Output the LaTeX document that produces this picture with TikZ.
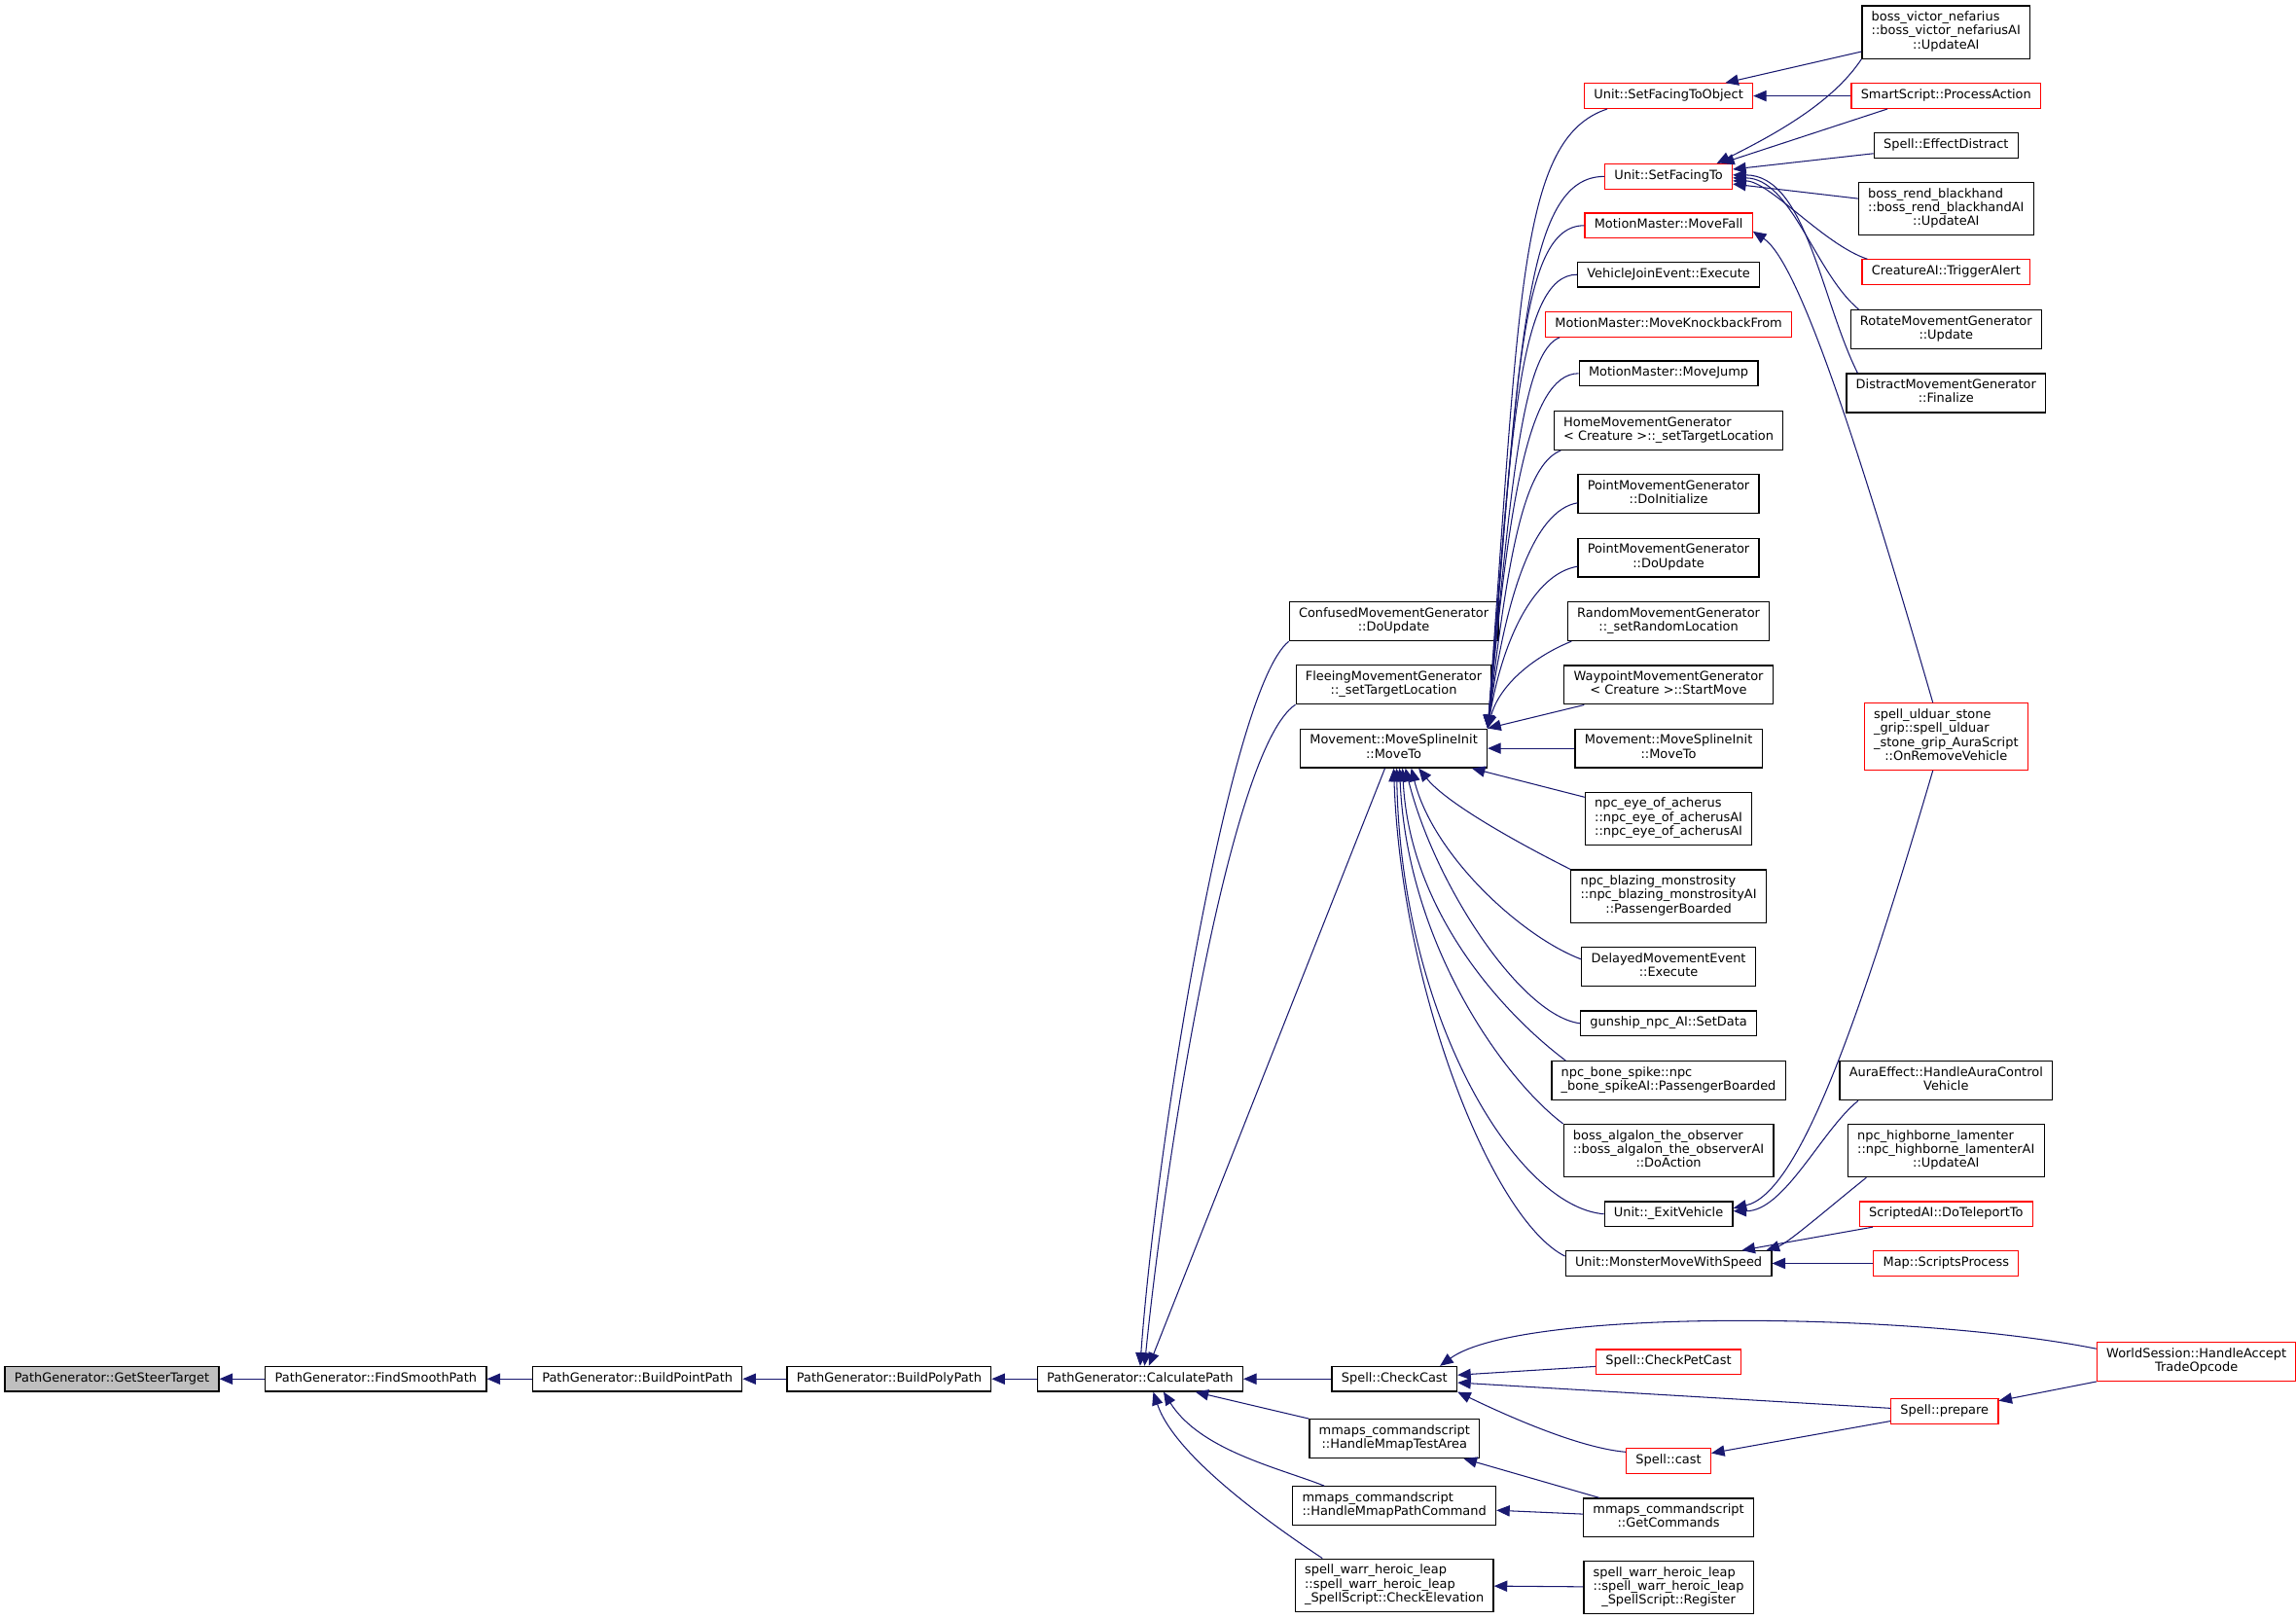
\documentclass[tikz,border=0pt]{standalone}
\usepackage{fontspec}
\newfontfamily\dgfont{DejaVu Sans}
\usepackage{tikz}
\usetikzlibrary{arrows.meta, calc}
\definecolor{edgeblue}{HTML}{191970}
\newcommand{\dgsize}{\dgfont\fontsize{8.6}{9.5}\selectfont}
\newcommand{\dglines}[1]{\begin{tabular}{@{}l@{}}#1\end{tabular}}
\newcommand{\dglast}[1]{\multicolumn{1}{@{}c@{}}{#1}}

\begin{document}
\begin{tikzpicture}[x=1pt, y=-1pt,
	fn/.style={draw=black, fill=white, line width=0.8pt, inner xsep=6.5pt, inner ysep=3.75pt, font=\dgsize, execute at begin node=\strut},
	redfn/.style={fn, draw=red},
	curfn/.style={fn, fill=gray!50},
	edge/.style={{Triangle[length=9pt,width=7.5pt]}-, draw=edgeblue, line width=0.7pt}]

	\useasboundingbox (0,0) rectangle (1568,1106);

	\node[curfn] (GST) at (76.4,941.6) {PathGenerator::GetSteerTarget};
	\node[fn] (FSP) at (256.7,941.6) {PathGenerator::FindSmoothPath};
	\node[fn] (BPtP) at (435.3,941.6) {PathGenerator::BuildPointPath};
	\node[fn] (BPyP) at (607.2,941.6) {PathGenerator::BuildPolyPath};
	\node[fn] (CP) at (778.6,941.6) {PathGenerator::CalculatePath};

	\node[fn] (CMG) at (951.8,424.4) {\dglines{ConfusedMovementGenerator\\\dglast{::DoUpdate}}};
	\node[fn] (FMG) at (951.8,467.5) {\dglines{FleeingMovementGenerator\\\dglast{::\_setTargetLocation}}};
	\node[fn] (MSIl) at (951.8,511) {\dglines{Movement::MoveSplineInit\\\dglast{::MoveTo}}};
	\node[fn] (CC) at (952.3,941.6) {Spell::CheckCast};
	\node[fn] (TA) at (952.3,982.4) {\dglines{mmaps\_commandscript\\\dglast{::HandleMmapTestArea}}};
	\node[fn] (PC) at (952.2,1028.3) {\dglines{mmaps\_commandscript\\\dglast{::HandleMmapPathCommand}}};
	\node[fn] (CE) at (952.2,1082.5) {\dglines{spell\_warr\_heroic\_leap\\::spell\_warr\_heroic\_leap\\\dglast{\_SpellScript::CheckElevation}}};

	\node[redfn] (SFTO) at (1139.5,65.5) {Unit::SetFacingToObject};
	\node[redfn] (SFT) at (1139.5,120.5) {Unit::SetFacingTo};
	\node[redfn] (MF) at (1139.5,154) {MotionMaster::MoveFall};
	\node[fn] (VJE) at (1139.5,187.5) {VehicleJoinEvent::Execute};
	\node[redfn] (MKF) at (1139.5,221.5) {MotionMaster::MoveKnockbackFrom};
	\node[fn] (MJ) at (1139.5,255) {MotionMaster::MoveJump};
	\node[fn] (HMG) at (1139.5,294) {\dglines{HomeMovementGenerator\\\dglast{< Creature >::\_setTargetLocation}}};
	\node[fn] (PDI) at (1139.5,337.4) {\dglines{PointMovementGenerator\\\dglast{::DoInitialize}}};
	\node[fn] (PDU) at (1139.5,380.8) {\dglines{PointMovementGenerator\\\dglast{::DoUpdate}}};
	\node[fn] (RMG) at (1139.5,424.3) {\dglines{RandomMovementGenerator\\\dglast{::\_setRandomLocation}}};
	\node[fn] (WMG) at (1139.5,467.7) {\dglines{WaypointMovementGenerator\\\dglast{< Creature >::StartMove}}};
	\node[fn] (MSIr) at (1139.5,511) {\dglines{Movement::MoveSplineInit\\\dglast{::MoveTo}}};
	\node[fn] (EYE) at (1139.5,559) {\dglines{npc\_eye\_of\_acherus\\::npc\_eye\_of\_acherusAI\\\dglast{::npc\_eye\_of\_acherusAI}}};
	\node[fn] (BLZ) at (1139.5,612) {\dglines{npc\_blazing\_monstrosity\\::npc\_blazing\_monstrosityAI\\\dglast{::PassengerBoarded}}};
	\node[fn] (DME) at (1139.5,660) {\dglines{DelayedMovementEvent\\\dglast{::Execute}}};
	\node[fn] (GUN) at (1139.5,698.8) {gunship\_npc\_AI::SetData};
	\node[fn] (BONE) at (1139.5,737.9) {\dglines{npc\_bone\_spike::npc\\\dglast{\_bone\_spikeAI::PassengerBoarded}}};
	\node[fn] (ALG) at (1139.5,785.7) {\dglines{boss\_algalon\_the\_observer\\::boss\_algalon\_the\_observerAI\\\dglast{::DoAction}}};
	\node[fn] (EXV) at (1139.5,829) {Unit::\_ExitVehicle};
	\node[fn] (MMWS) at (1139.5,862.7) {Unit::MonsterMoveWithSpeed};
	\node[redfn] (CPC) at (1139.5,930) {Spell::CheckPetCast};
	\node[redfn] (CAST) at (1139.5,997.5) {Spell::cast};
	\node[fn] (GC) at (1139.5,1036.4) {\dglines{mmaps\_commandscript\\\dglast{::GetCommands}}};
	\node[fn] (REG) at (1139.5,1084) {\dglines{spell\_warr\_heroic\_leap\\::spell\_warr\_heroic\_leap\\\dglast{\_SpellScript::Register}}};

	\node[fn] (BVN) at (1329,22) {\dglines{boss\_victor\_nefarius\\::boss\_victor\_nefariusAI\\\dglast{::UpdateAI}}};
	\node[redfn] (SSPA) at (1329,65.5) {SmartScript::ProcessAction};
	\node[fn] (ED) at (1329,99.3) {Spell::EffectDistract};
	\node[fn] (BRB) at (1329,142.6) {\dglines{boss\_rend\_blackhand\\::boss\_rend\_blackhandAI\\\dglast{::UpdateAI}}};
	\node[redfn] (CTA) at (1329,185.8) {CreatureAI::TriggerAlert};
	\node[fn] (RMGU) at (1329,225) {\dglines{RotateMovementGenerator\\\dglast{::Update}}};
	\node[fn] (DMGF) at (1329,268.4) {\dglines{DistractMovementGenerator\\\dglast{::Finalize}}};
	\node[redfn] (SUS) at (1329,503) {\dglines{spell\_ulduar\_stone\\\_grip::spell\_ulduar\\\_stone\_grip\_AuraScript\\\dglast{::OnRemoveVehicle}}};
	\node[fn] (AEV) at (1329,738) {\dglines{AuraEffect::HandleAuraControl\\\dglast{Vehicle}}};
	\node[fn] (NHL) at (1329,785.7) {\dglines{npc\_highborne\_lamenter\\::npc\_highborne\_lamenterAI\\\dglast{::UpdateAI}}};
	\node[redfn] (SDT) at (1329,829) {ScriptedAI::DoTeleportTo};
	\node[redfn] (MSP) at (1329,862.7) {Map::ScriptsProcess};
	\node[redfn] (SP) at (1328,963.8) {Spell::prepare};
	\node[redfn] (WS) at (1500,930) {\dglines{WorldSession::HandleAccept\\\dglast{TradeOpcode}}};

	\draw[edge] (GST) -- (FSP);
	\draw[edge] (FSP) -- (BPtP);
	\draw[edge] (BPtP) -- (BPyP);
	\draw[edge] (BPyP) -- (CP);
	\draw[edge] (CP) -- (CC);

	\draw[edge] (CP.north) .. controls +(11,-153) and +(-40,32) .. (CMG.south west);
	\draw[edge] ([xshift=3pt]CP.north) .. controls +(14,-140) and +(-45,30) .. (FMG.south west);
	\draw[edge] ([xshift=6pt]CP.north) -- ([xshift=-6pt]MSIl.south);
	\draw[edge] (CP) -- (TA.north west);
	\draw[edge] ([xshift=16pt]CP.south) .. controls +(25,40) and +(-30,-12) .. ([xshift=22pt]PC.north west);
	\draw[edge] ([xshift=9pt]CP.south) .. controls +(15,45) and +(-30,-20) .. ([xshift=19pt]CE.north west);

	\draw[edge] (MSIl.north east) .. controls +(22,-300) and +(-60,20) .. ([xshift=16pt]SFTO.south west);
	\draw[edge] (MSIl.north east) .. controls +(22,-260) and +(-55,0) .. (SFT.west);
	\draw[edge] (MSIl.north east) .. controls +(20,-230) and +(-45,0) .. (MF.west);
	\draw[edge] (MSIl.north east) .. controls +(16,-200) and +(-40,0) .. (VJE.west);
	\draw[edge] (MSIl.north east) .. controls +(16,-170) and +(-25,10) .. ([xshift=10pt]MKF.south west);
	\draw[edge] (MSIl.north east) .. controls +(14,-150) and +(-35,0) .. (MJ.west);
	\draw[edge] (MSIl.north east) .. controls +(14,-120) and +(-25,10) .. ([xshift=5pt]HMG.south west);
	\draw[edge] (MSIl.north east) .. controls +(12,-90) and +(-30,5) .. ([yshift=-6pt]PDI.west);
	\draw[edge] (MSIl.north east) .. controls +(10,-60) and +(-30,5) .. ([yshift=-6pt]PDU.west);
	\draw[edge] (MSIl.north east) .. controls +(8,-30) and +(-25,10) .. ([xshift=3pt]RMG.south west);
	\draw[edge] (MSIl.north east) -- ([xshift=14pt]WMG.south west);
	\draw[edge] (MSIl) -- (MSIr);

	\draw[edge] (MSIl) -- (EYE);
	\draw[edge] ([xshift=17pt]MSIl.south) .. controls +(20,25) and +(-30,-15) .. (BLZ.north west);
	\draw[edge] ([xshift=12pt]MSIl.south) .. controls +(15,60) and +(-40,-15) .. ([yshift=5pt]DME.west);
	\draw[edge] ([xshift=8pt]MSIl.south) .. controls +(20,80) and +(-40,-5) .. (GUN.west);
	\draw[edge] ([xshift=6pt]MSIl.south) .. controls +(5,100) and +(-40,-30) .. ([xshift=10pt]BONE.north west);
	\draw[edge] ([xshift=4pt]MSIl.south) .. controls +(5,120) and +(-40,-30) .. (ALG.north west);
	\draw[edge] ([xshift=2pt]MSIl.south) .. controls +(3,170) and +(-60,-5) .. (EXV.west);
	\draw[edge] (MSIl.south) .. controls +(5,150) and +(-50,-25) .. ([yshift=-4pt]MMWS.north west);

	\draw[edge] (SFTO) -- (BVN);
	\draw[edge] (SFTO) -- (SSPA);
	\draw[edge] ([xshift=-11pt]SFT.north east) .. controls +(40,-20) and +(-20,30) .. (BVN.south west);
	\draw[edge] ([xshift=-8pt]SFT.north east) -- ([xshift=25pt]SSPA.south west);
	\draw[edge] (SFT) -- (ED);
	\draw[edge] (SFT) -- (BRB);
	\draw[edge] ([yshift=-3pt]SFT.east) .. controls +(25,0) and +(-30,-10) .. ([xshift=4pt]CTA.north west);
	\draw[edge] ([yshift=-1pt]SFT.east) .. controls +(40,0) and +(-30,-25) .. ([xshift=6pt]RMGU.north west);
	\draw[edge] ([yshift=1pt]SFT.east) .. controls +(50,0) and +(-25,-50) .. ([xshift=8pt]DMGF.north west);

	\draw[edge] ([yshift=-4pt]MF.east) .. controls +(30,20) and +(-55,-190) .. ([xshift=-9pt]SUS.north);
	\draw[edge] ([yshift=4pt]EXV.east) .. controls +(45,-10) and +(-50,170) .. ([xshift=-9pt]SUS.south);
	\draw[edge] ([yshift=2pt]EXV.east) .. controls +(35,0) and +(-25,20) .. ([xshift=13pt]AEV.south west);

	\draw[edge] ([xshift=-4pt]MMWS.north east) .. controls +(15,-5) and +(-25,20) .. ([xshift=13pt]NHL.south west);
	\draw[edge] (MMWS) -- (SDT);
	\draw[edge] (MMWS) -- (MSP);

	\draw[edge] ([xshift=-12pt]CC.north east) .. controls +(55,-40) and +(-125,-25) .. ([yshift=9pt]WS.west);
	\draw[edge] (CC) -- (CPC);
	\draw[edge] (CC) -- (SP);
	\draw[edge] (CC.south east) .. controls +(25,12) and +(-35,-3) .. ([yshift=6pt]CAST.west);
	\draw[edge] (SP) -- (WS);
	\draw[edge] (CAST) -- (SP);
	\draw[edge] (TA) -- (GC);
	\draw[edge] (PC) -- (GC);
	\draw[edge] (CE) -- (REG);
\end{tikzpicture}
\end{document}
